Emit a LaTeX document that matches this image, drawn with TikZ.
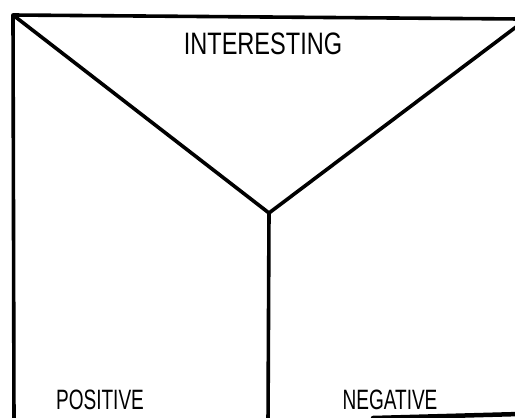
\documentclass[tikz,border=0pt]{standalone}
\usepackage{fontspec}
\usepackage{graphicx}
\setmainfont{Liberation Sans}
\tikzset{
  ink/.style={line width=3.6pt, line cap=round, line join=round, black},
  lbl/.style={inner sep=0pt, font=\fontsize{31}{32}\selectfont},
  lblsmall/.style={inner sep=0pt, font=\fontsize{28}{29}\selectfont},
}
\begin{document}
\begin{tikzpicture}[x=1pt,y=-1pt]
\useasboundingbox (0,0) rectangle (515,418);
\begin{scope}
\clip (0,0) rectangle (515,418);
\coordinate (tl) at (13,15);
\coordinate (tr) at (520,19);
\coordinate (tr2) at (520,24);
\coordinate (mid) at (269,213);
\coordinate (bl) at (14,425);
\coordinate (bm) at (268,425);
\coordinate (br1) at (373,418);
\coordinate (br2) at (520,414);
\draw[ink] (bl) -- (tl) -- (tr);
\draw[ink] (tl) -- (mid) -- (tr2);
\draw[ink] (mid) -- (bm);
\draw[ink, line width=4.5pt] (br1) -- (br2);
\end{scope}
\node[lbl] (interesting) at (263,44) {\scalebox{0.76}[1]{INTERESTING}};
\node[lblsmall] (positive) at (100,400) {\scalebox{0.68}[1]{POSITIVE}};
\node[lblsmall] (negative) at (390,400) {\scalebox{0.68}[1]{NEGATIVE}};
\end{tikzpicture}
\end{document}
